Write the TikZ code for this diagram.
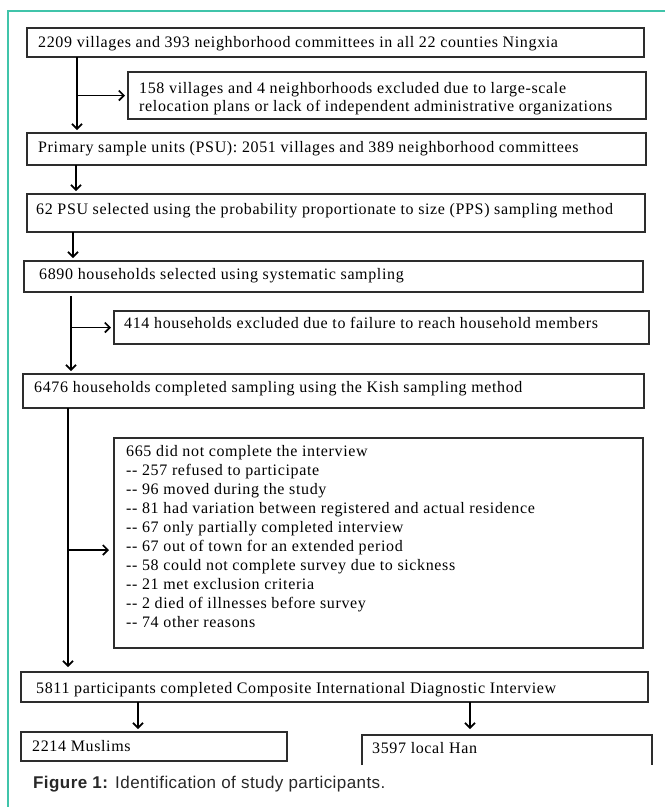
\documentclass[tikz,border=0pt]{standalone}
\usepackage{fontspec}
\setmainfont{Liberation Serif}
\newfontfamily\boxfont[LetterSpace=4]{Liberation Serif}
\newfontfamily\capfont[LetterSpace=2.5]{Liberation Sans}
\usetikzlibrary{arrows.meta}
\definecolor{frameteal}{RGB}{64,196,170}
\definecolor{boxgray}{RGB}{45,45,45}
\definecolor{capgray}{RGB}{40,40,40}
\newcommand{\dd}{-\kern0.6pt-}
\begin{document}
\begin{tikzpicture}[x=1pt,y=-1pt,
  boxst/.style={draw=boxgray, line width=1.1pt, inner sep=0pt, outer sep=0pt, anchor=north west},
  openbox/.style={inner sep=0pt, outer sep=0pt, anchor=north west},
  txt/.style={font=\boxfont\fontsize{16}{19}\selectfont, inner sep=0pt, anchor=base west},
  captxt/.style={font=\capfont\fontsize{17}{20}\selectfont, text=capgray, inner sep=0pt, anchor=base west},
  arr/.style={line width=1.9pt, -{Straight Barb[length=5pt,width=10pt,line width=1.7pt]}, shorten >=3pt},
  frm/.style={draw=frameteal, line width=1.5pt}
]
\useasboundingbox (0,0) rectangle (665,807);
\fill[white] (0,0) rectangle (665,807);
\draw[frm] (665,11) -- (8,11) -- (8,807);

% boxes
\node[boxst, minimum width=617pt, minimum height=29pt] (b1) at (27,28) {};
\node[boxst, minimum width=518pt, minimum height=47pt] (b2) at (128,72) {};
\node[boxst, minimum width=619pt, minimum height=32pt] (b3) at (27,133) {};
\node[boxst, minimum width=618pt, minimum height=38pt] (b4) at (27,194) {};
\node[boxst, minimum width=619pt, minimum height=31pt] (b5) at (24,261) {};
\node[boxst, minimum width=535pt, minimum height=33pt] (b6) at (114,311) {};
\node[boxst, minimum width=621pt, minimum height=34pt] (b7) at (23,374) {};
\node[boxst, minimum width=529pt, minimum height=210pt] (b8) at (114,438) {};
\node[boxst, minimum width=627pt, minimum height=30pt] (b9) at (21,672) {};
\node[boxst, minimum width=266pt, minimum height=29pt] (b10) at (21,732) {};
\node[openbox, minimum width=290pt, minimum height=30pt] (b11) at (362,735) {};
\draw[boxgray, line width=1.1pt] (b11.south west) -- (b11.north west) -- (b11.north east) -- (b11.south east);

% texts
\node[txt] (t1) at (38,47) {2209 villages and 393 neighborhood committees in all 22 counties Ningxia};
\node[txt] (t2a) at (139,93) {158 villages and 4 neighborhoods excluded due to large-scale};
\node[txt] (t2b) at (139,111) {relocation plans or lack of independent administrative organizations};
\node[txt] (t3) at (38,152) {Primary sample units (PSU): 2051 villages and 389 neighborhood committees};
\node[txt] (t4) at (36,214) {62 PSU selected using the probability proportionate to size (PPS) sampling method};
\node[txt] (t5) at (39,279) {6890 households selected using systematic sampling};
\node[txt] (t6) at (124,328) {414 households excluded due to failure to reach household members};
\node[txt] (t7) at (34,392) {6476 households completed sampling using the Kish sampling method};
\node[txt] (l0) at (126,456) {665 did not complete the interview};
\node[txt] (l1) at (126,475) {\dd{} 257 refused to participate};
\node[txt] (l2) at (126,494) {\dd{} 96 moved during the study};
\node[txt] (l3) at (126,513) {\dd{} 81 had variation between registered and actual residence};
\node[txt] (l4) at (126,532) {\dd{} 67 only partially completed interview};
\node[txt] (l5) at (126,551) {\dd{} 67 out of town for an extended period};
\node[txt] (l6) at (126,570) {\dd{} 58 could not complete survey due to sickness};
\node[txt] (l7) at (126,589) {\dd{} 21 met exclusion criteria};
\node[txt] (l8) at (126,608) {\dd{} 2 died of illnesses before survey};
\node[txt] (l9) at (126,627) {\dd{} 74 other reasons};
\node[txt] (t9) at (36,693) {5811 participants completed Composite International Diagnostic Interview};
\node[txt] (t10) at (32,751) {2214 Muslims};
\node[txt] (t11) at (372,753) {3597 local Han};
\node[captxt] (cap) at (33,788) {\textbf{Figure 1:} Identification of study participants.};

% connectors
\coordinate (v1) at ([xshift=50pt]b1.south west);
\draw[arr] (v1) -- (v1 |- b3.north);
\draw[arr] (v1 |- b2.west) -- (b2.west);

\coordinate (v2) at ([xshift=49pt]b3.south west);
\draw[arr] (v2) -- (v2 |- b4.north);

\coordinate (v3) at ([xshift=46pt]b4.south west);
\draw[arr] (v3) -- (v3 |- b5.north);

\coordinate (v4) at ([xshift=47pt]b5.south west);
\draw[arr, shorten <=4pt] (v4) -- (v4 |- b7.north);
\draw[arr] (v4 |- b6.west) -- (b6.west);

\coordinate (v5) at ([xshift=45pt]b7.south west);
\coordinate (b8arr) at ([yshift=-7pt]b8.west);
\draw[arr, shorten >=5pt] (v5) -- (v5 |- b9.north);
\draw[arr, shorten >=5pt] (v5 |- b8arr) -- (b8arr);

\coordinate (v6) at ([xshift=117pt]b9.south west);
\draw[arr] (v6) -- (v6 |- b10.north);
\coordinate (v7) at ([xshift=449pt]b9.south west);
\draw[arr, shorten >=6pt] (v7) -- (v7 |- b11.north);
\end{tikzpicture}
\end{document}
